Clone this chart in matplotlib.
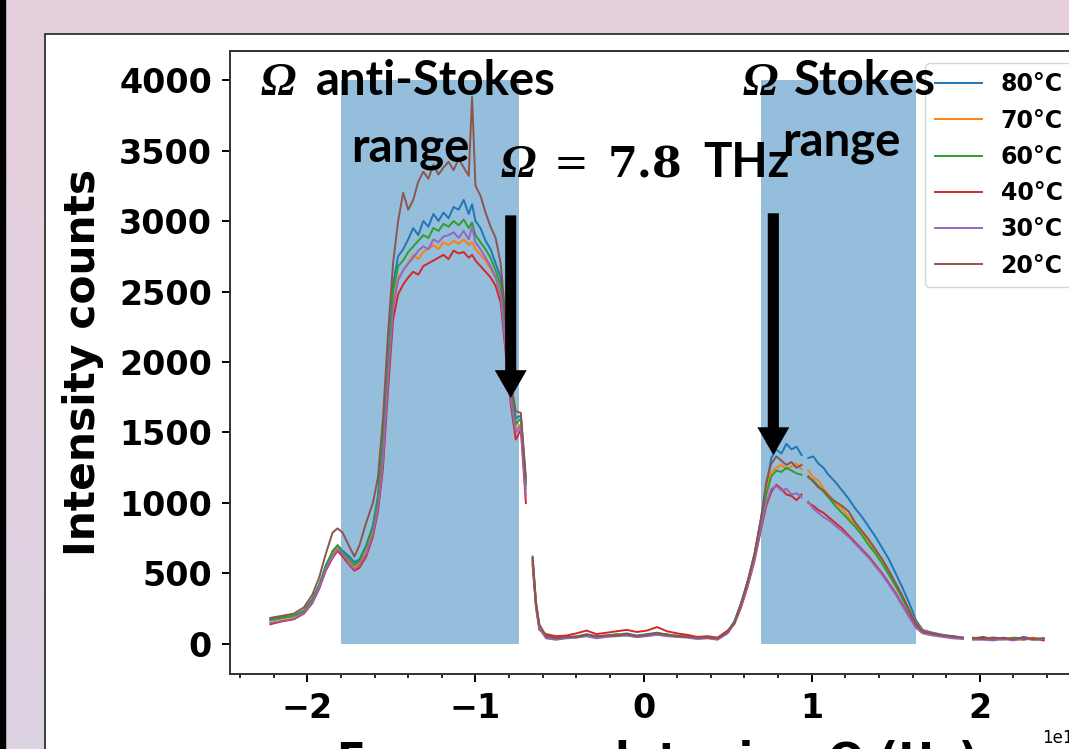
import numpy as np
import matplotlib
matplotlib.use("Agg")
import matplotlib.pyplot as plt
from matplotlib.patches import Rectangle
from matplotlib.colors import LinearSegmentedColormap
from matplotlib.ticker import MultipleLocator

nan = np.nan

# frequency detuning in units of 1e12 Hz
x_thz = [
    -2.22, -2.15, -2.08, -2.02, -1.97, -1.93, -1.89, -1.85, -1.82, -1.79,
    -1.75, -1.72, -1.69, -1.65, -1.61, -1.58, -1.55, -1.52, -1.49, -1.46,
    -1.43, -1.40, -1.37, -1.34, -1.31, -1.28, -1.25, -1.22, -1.19, -1.16,
    -1.13, -1.10, -1.07, -1.04, -1.02, -1.00, -0.97, -0.94, -0.91, -0.88,
    -0.85, -0.82, -0.79, -0.76, -0.73, -0.70, -0.68, -0.66, -0.64, -0.62,
    -0.58, -0.52, -0.46, -0.40, -0.34, -0.28, -0.22, -0.16, -0.10, -0.04,
    0.02, 0.08, 0.14, 0.20, 0.26, 0.32, 0.38, 0.44, 0.50, 0.54,
    0.58, 0.62, 0.66, 0.70, 0.73, 0.76, 0.79, 0.82, 0.85, 0.88,
    0.91, 0.94, 0.96, 0.98, 1.01, 1.04, 1.07, 1.10, 1.14, 1.18,
    1.22, 1.26, 1.30, 1.34, 1.38, 1.42, 1.46, 1.50, 1.54, 1.58,
    1.62, 1.66, 1.72, 1.78, 1.84, 1.90, 1.93, 1.96, 2.02, 2.08,
    2.14, 2.20, 2.26, 2.32, 2.38,
]

counts_80 = [
    175, 190, 200, 240, 320, 420, 560, 650, 700, 660,
    620, 580, 600, 700, 840, 1050, 1450, 2000, 2550, 2750,
    2800, 2870, 2950, 2900, 3000, 2960, 3050, 3000, 3060, 3020,
    3100, 3080, 3150, 3050, 3120, 3000, 2950, 2860, 2800, 2700,
    2600, 2200, 1800, 1600, 1620, 1150, nan, 620, 300, 120,
    60, 45, 55, 50, 70, 55, 60, 65, 75, 60,
    70, 80, 65, 60, 55, 45, 50, 40, 90, 160,
    290, 450, 640, 900, 1120, 1320, 1380, 1350, 1420, 1380,
    1400, 1340, nan, 1320, 1330, 1280, 1250, 1200, 1150, 1090,
    1030, 960, 900, 830, 760, 680, 600, 500, 400, 290,
    170, 100, 80, 65, 55, 45, nan, 40, 50, 35,
    45, 30, 50, 35, 40,
]
counts_70 = [
    165, 180, 195, 235, 310, 410, 540, 630, 680, 640,
    580, 550, 570, 650, 790, 990, 1350, 1900, 2420, 2600,
    2650, 2700, 2760, 2730, 2780, 2800, 2830, 2800, 2850, 2830,
    2860, 2840, 2870, 2830, 2850, 2800, 2760, 2720, 2660, 2600,
    2480, 2120, 1750, 1520, 1560, 1100, nan, 590, 280, 110,
    50, 40, 50, 45, 60, 50, 55, 60, 65, 55,
    65, 70, 60, 55, 50, 40, 45, 35, 85, 150,
    280, 430, 620, 860, 1080, 1220, 1250, 1270, 1240, 1260,
    1280, 1240, nan, 1230, 1180, 1160, 1100, 1060, 1000, 960,
    900, 850, 790, 720, 660, 590, 510, 430, 340, 240,
    150, 95, 75, 60, 50, 40, nan, 35, 40, 45,
    35, 40, 35, 45, 30,
]
counts_60 = [
    170, 185, 200, 230, 315, 415, 550, 660, 700, 650,
    600, 560, 590, 690, 830, 1030, 1420, 1950, 2500, 2680,
    2720, 2780, 2820, 2860, 2900, 2880, 2950, 2930, 2980, 2960,
    3000, 2970, 3010, 2950, 2990, 2900, 2850, 2800, 2740, 2650,
    2540, 2160, 1780, 1560, 1600, 1130, nan, 600, 290, 130,
    55, 35, 45, 55, 65, 45, 60, 70, 60, 50,
    60, 75, 70, 50, 55, 40, 45, 40, 80, 155,
    285, 440, 630, 880, 1060, 1190, 1230, 1220, 1250, 1230,
    1210, 1200, nan, 1180, 1160, 1120, 1080, 1040, 980, 930,
    880, 830, 770, 700, 640, 570, 490, 410, 320, 230,
    140, 90, 70, 55, 45, 40, nan, 45, 35, 40,
    30, 45, 40, 30, 35,
]
counts_40 = [
    140, 160, 175, 215, 290, 390, 520, 610, 660, 620,
    560, 520, 540, 620, 760, 940, 1250, 1800, 2300, 2480,
    2550, 2600, 2640, 2620, 2680, 2700, 2720, 2740, 2760, 2730,
    2790, 2770, 2780, 2740, 2760, 2720, 2680, 2640, 2600, 2540,
    2420, 2060, 1700, 1450, 1520, 1000, nan, 560, 260, 100,
    70, 55, 60, 75, 95, 70, 80, 90, 100, 85,
    95, 120, 90, 75, 65, 50, 55, 45, 95, 140,
    260, 410, 590, 820, 980, 1080, 1130, 1100, 1060, 1050,
    1020, 1060, nan, 1000, 980, 950, 930, 900, 860, 820,
    770, 720, 670, 620, 560, 500, 430, 360, 280, 200,
    120, 80, 65, 55, 50, 40, nan, 35, 45, 30,
    40, 35, 30, 40, 25,
]
counts_30 = [
    150, 165, 180, 220, 295, 400, 530, 620, 670, 640,
    570, 530, 560, 640, 780, 970, 1300, 1880, 2380, 2580,
    2650, 2700, 2740, 2790, 2820, 2800, 2870, 2850, 2890, 2900,
    2920, 2880, 2930, 2870, 2960, 2850, 2800, 2740, 2680, 2600,
    2480, 2100, 1740, 1500, 1540, 1050, nan, 580, 270, 110,
    40, 30, 40, 45, 55, 40, 50, 55, 60, 50,
    55, 65, 55, 50, 45, 35, 40, 30, 75, 145,
    270, 420, 600, 840, 1000, 1100, 1120, 1090, 1100, 1060,
    1070, 1040, nan, 1010, 960, 930, 900, 880, 840, 800,
    760, 710, 660, 610, 550, 490, 420, 350, 270, 190,
    115, 75, 60, 50, 40, 35, nan, 30, 30, 25,
    35, 25, 40, 30, 35,
]
counts_20 = [
    185, 200, 215, 260, 350, 470, 640, 790, 820, 790,
    690, 620, 700, 860, 1000, 1180, 1600, 2200, 2700, 3000,
    3200, 3080, 3150, 3280, 3350, 3300, 3400, 3330, 3380, 3420,
    3360, 3440, 3380, 3320, 3880, 3250, 3180, 3060, 2960, 2880,
    2700, 2300, 1850, 1650, 1640, 1180, nan, 610, 290, 140,
    55, 40, 50, 50, 65, 55, 60, 60, 70, 55,
    65, 75, 65, 55, 50, 45, 45, 40, 85, 150,
    285, 445, 640, 900, 1150, 1280, 1330, 1300, 1270, 1290,
    1250, 1270, nan, 1190, 1150, 1110, 1090, 1050, 1010, 980,
    940, 860, 800, 740, 670, 600, 520, 430, 340, 240,
    145, 90, 75, 60, 55, 45, nan, 40, 35, 45,
    40, 35, 45, 35, 40,
]

labels = ["80°C", "70°C", "60°C", "40°C", "30°C", "20°C"]
series = [counts_80, counts_70, counts_60, counts_40, counts_30, counts_20]

# shaded ranges (1e12 Hz) and their height in counts
anti_stokes_range = [-1.80, -0.74]
stokes_range = [0.70, 1.62]
range_top = 4000

# arrows: x position (1e12 Hz), tail and tip (counts)
arrow_x = [-0.79, 0.772]
arrow_tail = [3040, 3055]
arrow_tip = [1745, 1340]

W, H = 1069, 749
plt.rcParams["font.weight"] = "bold"
plt.rcParams["axes.labelweight"] = "bold"

fig = plt.figure(figsize=(W / 100, H / 100), dpi=100)


def fx(px):
    return px / W


def fy(py):
    return 1 - py / H


# slide background behind the chart
bg = fig.add_axes([0, 0, 1, 1], zorder=-5)
bg.set_xlim(0, W)
bg.set_ylim(H, 0)
bg.axis("off")
grad = np.linspace(0, 1, 256).reshape(-1, 1)
cmap = LinearSegmentedColormap.from_list("slide", ["#e7cfdc", "#ddd3e3"])
bg.imshow(grad, cmap=cmap, extent=[0, W, H, 0], aspect="auto")
bg.add_patch(Rectangle((0, 0), 5, H, color="black"))
bg.add_patch(Rectangle((44.5, 33.5), W, H, facecolor="white",
                       edgecolor="#222222", lw=1.2))

ax = fig.add_axes([fx(230), fy(674), (1084 - 230) / W, (674 - 51) / H])
x = np.array(x_thz) * 1e12

for rng in (anti_stokes_range, stokes_range):
    ax.fill_between(np.array(rng) * 1e12, 0, range_top, color="C0",
                    alpha=0.48, lw=0, zorder=1)

for lbl, ys in zip(labels, series):
    ax.plot(x, ys, lw=1.4, label=lbl, zorder=2)

ax.set_xlim(-2.46e12, 2.62e12)
ax.set_ylim(-213, 4206)
ax.xaxis.set_minor_locator(MultipleLocator(0.2e12))
ax.tick_params(which="major", length=6, width=1.4, labelsize=24, pad=7)
ax.tick_params(which="minor", length=3, width=1.2)
for sp in ax.spines.values():
    sp.set_linewidth(1.4)
    sp.set_color("#333333")

ax.set_xlabel("Frequency detuning Ω (Hz)", fontsize=30.5, labelpad=11)
ax.set_ylabel("Intensity counts", fontsize=30.5, labelpad=11)
off = ax.xaxis.get_offset_text()
off.set_fontsize(12)
off.set_fontweight("normal")

ax.legend(loc="upper right", prop={"size": 17, "weight": "bold"},
          labelspacing=0.52)

for xa, tail, tip in zip(arrow_x, arrow_tail, arrow_tip):
    ax.annotate("", xy=(xa * 1e12, tip), xytext=(xa * 1e12, tail),
                arrowprops=dict(facecolor="black", edgecolor="none", width=8,
                                headwidth=23, headlength=20, shrink=0),
                zorder=6)

# slide text placed over the chart
sans = dict(family="Lato", weight="bold", fontsize=34, va="baseline")
omega = dict(family="Liberation Serif", style="italic", weight="bold",
             fontsize=34, va="baseline")
fig.text(fx(261), fy(95), "Ω", **omega)
fig.text(fx(316), fy(95), "anti-Stokes", **sans)
fig.text(fx(410), fy(162), "range", ha="center", **sans)
fig.text(fx(501), fy(177), "Ω", **omega)
fig.text(fx(554), fy(177), "=", family="DejaVu Serif", fontsize=30,
         weight="normal", va="baseline")
fig.text(fx(608), fy(177), "7.8", family="DejaVu Serif", fontsize=31,
         weight="bold", va="baseline")
fig.text(fx(703), fy(177), "THz", **sans)
fig.text(fx(743), fy(95), "Ω", **omega)
fig.text(fx(794), fy(95), "Stokes", **sans)
fig.text(fx(841), fy(155), "range", ha="center", **sans)

fig.savefig("out.png", dpi=100)
